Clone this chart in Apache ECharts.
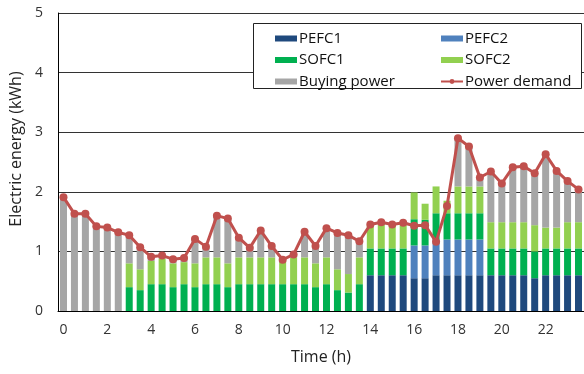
<!DOCTYPE html>
<html>
<head>
<meta charset="utf-8">
<script src="https://cdn.jsdelivr.net/npm/echarts@6/dist/echarts.min.js"></script>
<style>
  html, body { margin: 0; padding: 0; background: #fff; }
  #chart { width: 584px; height: 374px; }
</style>
</head>
<body>
<div id="chart"></div>
<script>
// Half-hour time slots over one day
var timeSlots = ['0','0.5','1','1.5','2','2.5','3','3.5','4','4.5','5','5.5',
  '6','6.5','7','7.5','8','8.5','9','9.5','10','10.5','11','11.5',
  '12','12.5','13','13.5','14','14.5','15','15.5','16','16.5','17','17.5',
  '18','18.5','19','19.5','20','20.5','21','21.5','22','22.5','23','23.5'];

// Energy supplied by each source (kWh)
var pefc1 = [0,0,0,0,0,0,0,0,0,0,0,0,
  0,0,0,0,0,0,0,0,0,0,0,0,
  0,0,0,0,0.60,0.60,0.60,0.60,0.55,0.55,0.60,0.60,
  0.60,0.60,0.60,0.60,0.60,0.60,0.60,0.55,0.60,0.60,0.60,0.60];
var pefc2 = [0,0,0,0,0,0,0,0,0,0,0,0,
  0,0,0,0,0,0,0,0,0,0,0,0,
  0,0,0,0,0,0,0,0,0.55,0.55,0.60,0.60,
  0.60,0.60,0.60,0,0,0,0,0,0,0,0,0];
var sofc1 = [0,0,0,0,0,0,0.40,0.35,0.45,0.45,0.40,0.45,
  0.40,0.45,0.45,0.40,0.45,0.45,0.45,0.45,0.45,0.45,0.45,0.40,
  0.45,0.35,0.31,0.45,0.45,0.45,0.45,0.45,0.44,0.43,0.44,0.44,
  0.44,0.44,0.44,0.45,0.45,0.45,0.45,0.45,0.45,0.45,0.45,0.45];
var sofc2 = [0,0,0,0,0,0,0.40,0.35,0.39,0.43,0.40,0.37,
  0.40,0.45,0.45,0.40,0.45,0.45,0.45,0.45,0.41,0.45,0.45,0.40,
  0.45,0.35,0.31,0.45,0.38,0.41,0.38,0.41,0.45,0.27,0.45,0.21,
  0.45,0.45,0.45,0.44,0.44,0.44,0.44,0.44,0.35,0.35,0.44,0.44];
var buyingPower = [1.91,1.63,1.63,1.42,1.40,1.32,0.47,0.37,0.07,0.05,0.07,0.07,
  0.41,0.18,0.70,0.75,0.33,0.16,0.45,0.19,0,0.05,0.43,0.29,
  0.49,0.61,0.65,0.27,0,0,0,0,0,0,0,0,
  0.81,0.67,0.15,0.85,0.65,0.92,0.94,0.87,1.23,0.95,0.69,0.55];
var powerDemand = [1.91,1.63,1.63,1.42,1.40,1.32,1.27,1.07,0.91,0.93,0.87,0.89,
  1.21,1.08,1.60,1.55,1.23,1.06,1.35,1.09,0.86,0.95,1.33,1.09,
  1.39,1.31,1.27,1.17,1.45,1.49,1.45,1.48,1.43,1.44,1.16,1.76,
  2.90,2.76,2.24,2.34,2.14,2.41,2.43,2.31,2.63,2.35,2.18,2.04];

var FONT = '"Open Sans", "Liberation Sans", sans-serif';

function barSeries(name, data, color) {
  return {
    name: name, type: 'bar', stack: 'supply', data: data,
    barWidth: 7, z: 2,
    itemStyle: { color: color }
  };
}

var legendText = { fontFamily: FONT, fontSize: 15, lineHeight: 15, color: '#111', padding: [0, 0, 0, -3] };

var chart = echarts.init(document.getElementById('chart'), null, { renderer: 'canvas' });
chart.setOption({
  animation: false,
  backgroundColor: '#fff',
  textStyle: { fontFamily: FONT },
  grid: { left: 58, right: 0, top: 13, bottom: 63, containLabel: false },
  graphic: [{
    type: 'rect', z: 3,
    shape: { x: 253.5, y: 23.5, width: 328, height: 65 },
    style: { fill: '#fff', stroke: '#222', lineWidth: 1 }
  }],
  legend: [{
    orient: 'vertical', left: 270, top: 26, itemWidth: 22, itemHeight: 6, itemGap: 6.5,
    textStyle: legendText, z: 4,
    data: [{ name: 'PEFC1', icon: 'rect' }, { name: 'SOFC1', icon: 'rect' }, { name: 'Buying power', icon: 'rect' }]
  }, {
    orient: 'vertical', left: 435, top: 26, itemWidth: 22, itemHeight: 6, itemGap: 6.5,
    textStyle: legendText, z: 4,
    data: [{ name: 'PEFC2', icon: 'rect' }, { name: 'SOFC2', icon: 'rect' }, { name: 'Power demand' }]
  }],
  xAxis: {
    type: 'category', data: timeSlots, boundaryGap: true,
    name: 'Time (h)', nameLocation: 'middle', nameGap: 38,
    nameTextStyle: { fontFamily: FONT, fontSize: 16, color: '#222' },
    axisLine: { lineStyle: { color: '#000', width: 1 } },
    axisTick: { interval: 1, inside: true, length: 4, lineStyle: { color: '#000' } },
    axisLabel: { interval: 3, margin: 12, fontSize: 14, color: '#333', fontFamily: FONT }
  },
  yAxis: {
    type: 'value', min: 0, max: 5, interval: 1,
    name: 'Electric energy (kWh)', nameLocation: 'middle', nameGap: 32,
    nameTextStyle: { fontFamily: FONT, fontSize: 16, color: '#222', padding: [0, 0, 0, 26] },
    axisLine: { show: true, lineStyle: { color: '#000', width: 1 } },
    axisTick: { show: false },
    splitLine: { lineStyle: { color: '#333', width: 1 } },
    axisLabel: { margin: 15, fontSize: 14, color: '#333', fontFamily: FONT }
  },
  series: [
    barSeries('PEFC1', pefc1, '#1F497D'),
    barSeries('PEFC2', pefc2, '#4F81BD'),
    barSeries('SOFC1', sofc1, '#00B050'),
    barSeries('SOFC2', sofc2, '#92D050'),
    barSeries('Buying power', buyingPower, '#A6A6A6'),
    {
      name: 'Power demand', type: 'line', data: powerDemand, z: 5,
      symbol: 'circle', symbolSize: 8, showAllSymbol: true,
      lineStyle: { color: '#C0504D', width: 3 },
      itemStyle: { color: '#C0504D' }
    }
  ]
});
</script>
</body>
</html>
